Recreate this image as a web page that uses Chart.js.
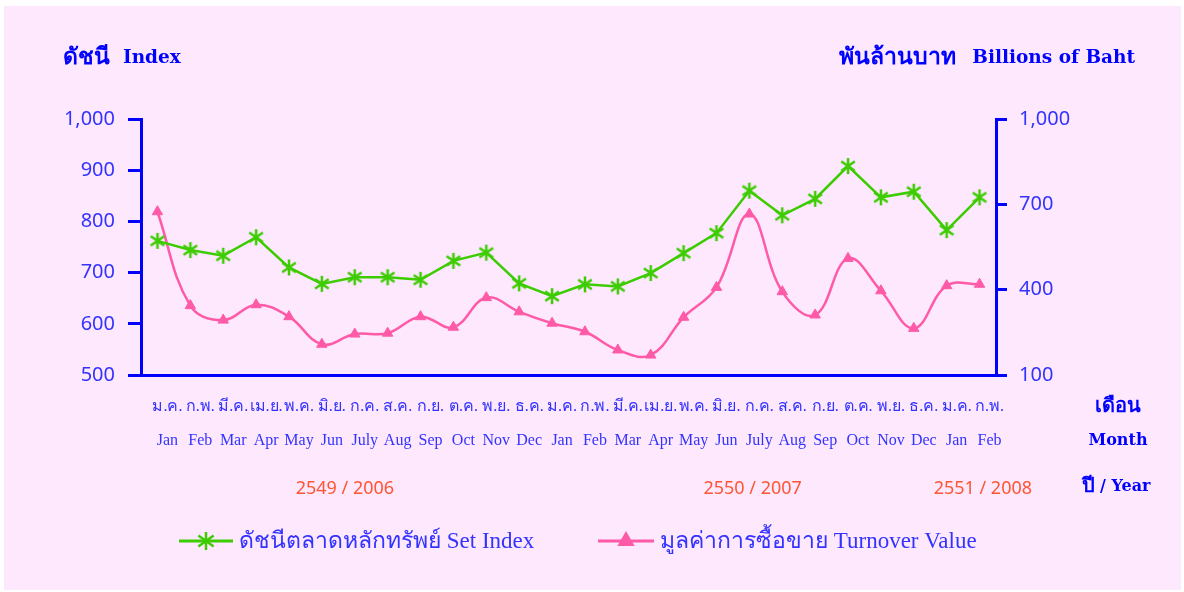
<!DOCTYPE html>
<html>
<head>
<meta charset="utf-8">
<script src="https://cdn.jsdelivr.net/npm/chart.js@4"></script>
<style>
  html, body { margin: 0; padding: 0; background: #ffffff; }
  #wrap { width: 1184px; height: 592px; }
</style>
</head>
<body>
<div id="wrap"><canvas id="myChart" width="1184" height="592"></canvas></div>
<script>
// Etiquetas de meses (tailandés / inglés)
const thaiMonths = ['ม.ค.', 'ก.พ.', 'มี.ค.', 'เม.ย.', 'พ.ค.', 'มิ.ย.', 'ก.ค.', 'ส.ค.', 'ก.ย.', 'ต.ค.', 'พ.ย.', 'ธ.ค.',
                    'ม.ค.', 'ก.พ.', 'มี.ค.', 'เม.ย.', 'พ.ค.', 'มิ.ย.', 'ก.ค.', 'ส.ค.', 'ก.ย.', 'ต.ค.', 'พ.ย.', 'ธ.ค.',
                    'ม.ค.', 'ก.พ.'];
const engMonths = ['Jan', 'Feb', 'Mar', 'Apr', 'May', 'Jun', 'July', 'Aug', 'Sep', 'Oct', 'Nov', 'Dec',
                   'Jan', 'Feb', 'Mar', 'Apr', 'May', 'Jun', 'July', 'Aug', 'Sep', 'Oct', 'Nov', 'Dec',
                   'Jan', 'Feb'];

// Series
const setIndex = [762, 744, 733, 769, 710, 678, 691, 691, 686, 723, 739, 679,
                  654, 677, 673, 699, 738, 777, 860, 812, 844, 908, 847, 858,
                  783, 847];
const turnover = [674, 344, 293, 347, 305, 208, 244, 247, 305, 268, 372, 322,
                  282, 252, 188, 170, 303, 408, 666, 393, 311, 510, 396, 264,
                  414, 419];

// Year labels under the axis
const yearLabels = ['2549 / 2006', '2550 / 2007', '2551 / 2008'];
const yearIndex = [5.7, 18.1, 25.1];

const leftTicks = [500, 1000, 100];   // min, max, step
const rightTicks = [100, 1000, 300];

const GREEN = '#3ccc00';
const PINK = '#ff5aa8';
const BLUE = '#0000ff';
const TICKBLUE = '#3333ff';

const THAI_B = 'bold 23px "Liberation Serif", serif';
const ENG_B = 'bold 18.5px "DejaVu Serif", serif';
const THAI_S = 'bold 20px "Liberation Serif", serif';
const ENG_S = 'bold 16px "DejaVu Serif", serif';

// Asterisk marker (vertical line + X)
function makeAsterisk(size, color) {
  const c = document.createElement('canvas');
  c.width = size; c.height = size;
  const g = c.getContext('2d');
  const m = size / 2, r = size / 2 - 1;
  g.strokeStyle = color;
  g.lineWidth = 2.5;
  g.beginPath();
  g.moveTo(m, m - r); g.lineTo(m, m + r);
  g.moveTo(m - r * 0.85, m - r * 0.6); g.lineTo(m + r * 0.85, m + r * 0.6);
  g.moveTo(m - r * 0.85, m + r * 0.6); g.lineTo(m + r * 0.85, m - r * 0.6);
  g.stroke();
  return c;
}
const asterisk = makeAsterisk(18, GREEN);
const asteriskBig = makeAsterisk(20, GREEN);

const labels = thaiMonths.map((t, i) => [t, engMonths[i]]);

// texto con partes de distinta fuente
function drawParts(ctx, parts, x, y, align) {
  let total = 0;
  parts.forEach(p => { ctx.font = p.font; p.w = ctx.measureText(p.text).width; total += p.w + (p.gap || 0); });
  let cx = align === 'right' ? x - total : align === 'center' ? x - total / 2 : x;
  ctx.textAlign = 'left';
  parts.forEach(p => {
    ctx.font = p.font;
    ctx.fillText(p.text, cx, y);
    cx += p.w + (p.gap || 0);
  });
}

// Fondo, títulos, años y leyenda
const decor = {
  id: 'decor',
  beforeDraw(chart) {
    const ctx = chart.ctx;
    ctx.save();
    ctx.fillStyle = '#ffffff';
    ctx.fillRect(0, 0, chart.width, chart.height);
    ctx.fillStyle = '#fde8fd';
    ctx.fillRect(4, 6, 1177, 584);
    ctx.restore();
  },
  afterDraw(chart) {
    const ctx = chart.ctx;
    const x = chart.scales.x;
    ctx.save();
    ctx.textBaseline = 'middle';
    ctx.fillStyle = BLUE;
    drawParts(ctx, [{ text: 'ดัชนี', font: THAI_B, gap: 13 }, { text: 'Index', font: ENG_B }], 63, 58, 'left');
    drawParts(ctx, [{ text: 'พันล้านบาท', font: THAI_B, gap: 16 }, { text: 'Billions of Baht', font: ENG_B }], 1135, 58, 'right');

    drawParts(ctx, [{ text: 'เดือน', font: THAI_S }], 1118, 407, 'center');
    drawParts(ctx, [{ text: 'Month', font: ENG_S }], 1118, 441, 'center');
    drawParts(ctx, [{ text: 'ปี', font: THAI_S, gap: 0 }, { text: ' / Year', font: ENG_S }], 1116, 487, 'center');

    ctx.fillStyle = '#ff5533';
    ctx.font = '18px "Noto Sans", sans-serif';
    ctx.textAlign = 'center';
    yearLabels.forEach((t, i) => {
      ctx.fillText(t, x.getPixelForValue(yearIndex[i]), 489);
    });

    // leyenda
    const items = [
      { text: 'ดัชนีตลาดหลักทรัพย์ Set Index', color: GREEN, x0: 179, x1: 233, style: asteriskBig, r: 10 },
      { text: 'มูลค่าการซื้อขาย Turnover Value', color: PINK, x0: 598, x1: 654, style: 'triangle', r: 7 }
    ];
    const ly = 541;
    items.forEach(it => {
      ctx.strokeStyle = it.color;
      ctx.lineWidth = 3;
      ctx.beginPath();
      ctx.moveTo(it.x0, ly); ctx.lineTo(it.x1, ly);
      ctx.stroke();
      ctx.fillStyle = it.color;
      Chart.helpers.drawPoint(ctx, {
        pointStyle: it.style, radius: it.r, rotation: 0, borderWidth: 1
      }, (it.x0 + it.x1) / 2, ly);
      ctx.fillStyle = TICKBLUE;
      ctx.textAlign = 'left';
      ctx.font = '23px "Liberation Serif", serif';
      ctx.fillText(it.text, it.x1 + 6, ly + 1);
    });
    ctx.restore();
  }
};

const ctx = document.getElementById('myChart').getContext('2d');

const chart = new Chart(ctx, {
  type: 'line',
  data: {
    labels: labels,
    datasets: [{
      label: 'ดัชนีตลาดหลักทรัพย์ Set Index',
      data: setIndex,
      yAxisID: 'y',
      borderColor: GREEN,
      borderWidth: 2.5,
      tension: 0,
      pointStyle: asterisk,
      pointRadius: 9
    }, {
      label: 'มูลค่าการซื้อขาย Turnover Value',
      data: turnover,
      yAxisID: 'y1',
      borderColor: PINK,
      backgroundColor: PINK,
      borderWidth: 2.5,
      tension: 0.4,
      pointStyle: 'triangle',
      pointRadius: 6,
      pointBorderWidth: 1
    }]
  },
  options: {
    responsive: false,
    animation: false,
    events: [],
    layout: { padding: { top: 119, left: 0, right: 0, bottom: 0 } },
    plugins: {
      legend: { display: false },
      tooltip: { enabled: false }
    },
    scales: {
      x: {
        offset: true,
        afterFit: s => { s.height = 217; },
        grid: { display: false, drawTicks: false },
        border: { color: BLUE, width: 3 },
        ticks: {
          color: TICKBLUE,
          autoSkip: false,
          maxRotation: 0,
          padding: 15,
          labelOffset: 10,
          font: { family: '"Liberation Serif", serif', size: 16, lineHeight: 2.1 }
        }
      },
      y: {
        position: 'left',
        min: leftTicks[0],
        max: leftTicks[1],
        afterFit: s => { s.width = 141; },
        grid: { drawOnChartArea: false, drawTicks: true, tickLength: 13, color: BLUE, lineWidth: 3 },
        border: { color: BLUE, width: 3 },
        ticks: {
          stepSize: leftTicks[2],
          color: TICKBLUE,
          padding: 13,
          font: { family: '"Noto Sans", sans-serif', size: 20 }
        }
      },
      y1: {
        position: 'right',
        min: rightTicks[0],
        max: rightTicks[1],
        afterFit: s => { s.width = 188; },
        grid: { drawOnChartArea: false, drawTicks: true, tickLength: 11, color: BLUE, lineWidth: 3 },
        border: { color: BLUE, width: 3 },
        ticks: {
          stepSize: rightTicks[2],
          color: TICKBLUE,
          padding: 12,
          font: { family: '"Noto Sans", sans-serif', size: 20 }
        }
      }
    }
  },
  plugins: [decor]
});
</script>
</body>
</html>
